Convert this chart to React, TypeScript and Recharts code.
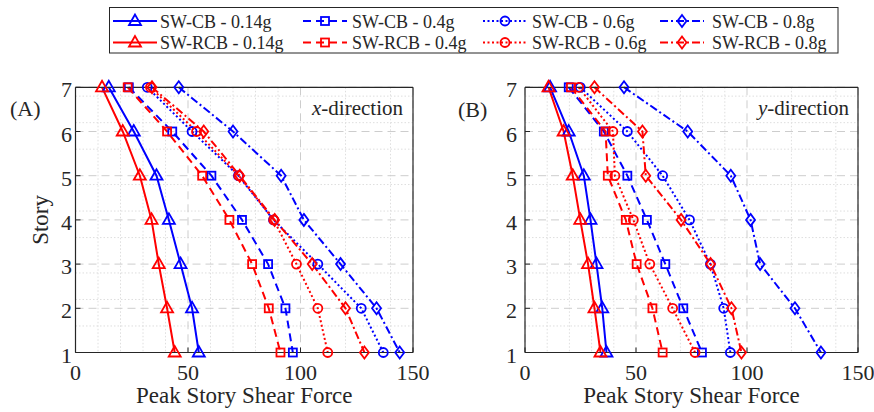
import React from "react";
import { CartesianGrid, Line, LineChart, XAxis, YAxis } from "recharts";

// story levels (top to bottom, the order the lines are drawn in)
const stories = [7, 6, 5, 4, 3, 2, 1];

// (A) x-direction
const aCB014 = [14.8, 25.9, 36, 41.5, 46.7, 51.8, 54.8];
const aRCB014 = [11.8, 21, 28.6, 33.8, 37, 40.7, 44.1];
const aCB04 = [23.7, 43, 60.4, 74, 85.6, 93.3, 96.6];
const aRCB04 = [23.2, 40.7, 56.3, 68.4, 78.5, 85.9, 91.1];
const aCB06 = [31.9, 51.8, 72.4, 88, 107.7, 127, 136.8];
const aRCB06 = [33.3, 53.8, 72.6, 88.1, 98.2, 107.7, 112.1];
const aCB08 = [45.9, 70, 91.4, 101.5, 117.8, 133.8, 144.1];
const aRCB08 = [34, 57, 73, 88.5, 105.2, 120, 128.4];

// (B) y-direction
const bCB014 = [11.3, 19.7, 26.5, 29.5, 32.2, 34.8, 36.7];
const bRCB014 = [10.6, 17.4, 21.5, 24.9, 28.4, 31.3, 34];
const bCB04 = [19.7, 35.5, 46.1, 54.9, 63.2, 71.3, 79.7];
const bRCB04 = [20.7, 36.3, 37.3, 45.4, 50.3, 57.4, 62];
const bCB06 = [24.9, 46.1, 62, 74.1, 83.5, 89.5, 92.5];
const bRCB06 = [24.2, 39.6, 40.5, 48.8, 56.2, 66.5, 76.6];
const bCB08 = [44.6, 73.3, 92.7, 101.6, 105.9, 121.6, 133.3];
const bRCB08 = [31.3, 52.9, 54.4, 70.3, 83.6, 93, 97.5];

const xTicks = [0, 50, 100, 150];
const yTicks = [1, 2, 3, 4, 5, 6, 7];

const FONT = "Liberation Serif, DejaVu Serif, Noto Serif, Times New Roman, serif";
const serif = { fontFamily: FONT };
const INK = "#262626";
const BLUE = "#0000ff";
const RED = "#ff0000";

type Marker = "triangle" | "square" | "circle" | "diamond";

const series: { key: string; name: string; color: string; dash?: string; marker: Marker }[] = [
  { key: "cb014", name: "SW-CB - 0.14g", color: BLUE, marker: "triangle" },
  { key: "cb04", name: "SW-CB - 0.4g", color: BLUE, dash: "8 5", marker: "square" },
  { key: "cb06", name: "SW-CB - 0.6g", color: BLUE, dash: "2 2.5", marker: "circle" },
  { key: "cb08", name: "SW-CB - 0.8g", color: BLUE, dash: "8 3 2 3", marker: "diamond" },
  { key: "rcb014", name: "SW-RCB - 0.14g", color: RED, marker: "triangle" },
  { key: "rcb04", name: "SW-RCB - 0.4g", color: RED, dash: "8 5", marker: "square" },
  { key: "rcb06", name: "SW-RCB - 0.6g", color: RED, dash: "2 2.5", marker: "circle" },
  { key: "rcb08", name: "SW-RCB - 0.8g", color: RED, dash: "8 3 2 3", marker: "diamond" },
];

const rowsA = stories.map((story, i) => ({
  story,
  cb014: aCB014[i],
  rcb014: aRCB014[i],
  cb04: aCB04[i],
  rcb04: aRCB04[i],
  cb06: aCB06[i],
  rcb06: aRCB06[i],
  cb08: aCB08[i],
  rcb08: aRCB08[i],
}));

const rowsB = stories.map((story, i) => ({
  story,
  cb014: bCB014[i],
  rcb014: bRCB014[i],
  cb04: bCB04[i],
  rcb04: bRCB04[i],
  cb06: bCB06[i],
  rcb06: bRCB06[i],
  cb08: bCB08[i],
  rcb08: bRCB08[i],
}));

// minor grid (matlab style): every 10 in x, every 0.2 story in y
const minorX = Array.from({ length: 14 }, (_, i) => (i + 1) * 10).filter((v) => v % 50 !== 0);
const minorY = Array.from({ length: 29 }, (_, i) => 1 + (i + 1) * 0.2).filter(
  (v) => Math.abs(v - Math.round(v)) > 0.01
);

function MarkerShape({ cx, cy, marker, color }: { cx: number; cy: number; marker: Marker; color: string }) {
  const common = { fill: "none", stroke: color, strokeWidth: 1.8, strokeDasharray: "none" };
  if (marker === "triangle")
    return <polygon points={`${cx},${cy - 6.5} ${cx - 6},${cy + 4} ${cx + 6},${cy + 4}`} {...common} />;
  if (marker === "square") return <rect x={cx - 4} y={cy - 4} width={8} height={8} {...common} />;
  if (marker === "circle") return <circle cx={cx} cy={cy} r={4.5} {...common} />;
  return <polygon points={`${cx},${cy - 6} ${cx + 4.5},${cy} ${cx},${cy + 6} ${cx - 4.5},${cy}`} {...common} />;
}

// tick text drawn by hand so the serif font sticks (inline style beats recharts' own css)
function XTick(p: any) {
  return (
    <text x={p.x} y={p.y} dy={16} textAnchor="middle" fontSize={22} fill={INK} style={serif}>
      {p.payload.value}
    </text>
  );
}

function YTick(p: any) {
  return (
    <text x={p.x} y={p.y} dy={10} textAnchor="end" fontSize={22} fill={INK} style={serif}>
      {p.payload.value}
    </text>
  );
}

function XTitle(p: any) {
  const vb = p.viewBox || {};
  return (
    <text x={vb.x + vb.width / 2} y={vb.y + vb.height - 4.5} textAnchor="middle" fontSize={23} fill={INK} style={serif}>
      Peak Story Shear Force
    </text>
  );
}

function YTitle(p: any) {
  const vb = p.viewBox || {};
  const cx = vb.x + 20;
  const cy = vb.y + vb.height / 2;
  return (
    <text
      transform={`translate(${cx},${cy}) rotate(-90)`}
      x={0}
      y={7.5}
      textAnchor="middle"
      fontSize={23}
      fill={INK}
      style={serif}
    >
      Story
    </text>
  );
}

function Panel({
  rows,
  width,
  yWidth,
  marginLeft,
  marginRight,
  yTickMargin,
  storyLabel,
}: {
  rows: typeof rowsA;
  width: number;
  yWidth: number;
  marginLeft: number;
  marginRight: number;
  yTickMargin: number;
  storyLabel: boolean;
}) {
  return (
    <LineChart
      width={width}
      height={412}
      data={rows}
      layout="vertical"
      margin={{ top: 86.3, right: marginRight, left: marginLeft, bottom: 4.5 }}
    >
      <CartesianGrid stroke="#dedede" strokeDasharray="1.5 2" verticalValues={minorX} horizontalValues={minorY} />
      <CartesianGrid stroke="#cdcdcd" strokeDasharray="8 5" />
      <XAxis
        type="number"
        domain={[0, 150]}
        ticks={xTicks}
        height={55}
        tickSize={-5}
        tickMargin={16}
        tick={<XTick />}
        tickLine={{ stroke: INK }}
        axisLine={{ stroke: INK, strokeWidth: 1.2 }}
        label={<XTitle />}
      />
      <XAxis
        xAxisId="top"
        orientation="top"
        type="number"
        domain={[0, 150]}
        ticks={xTicks}
        height={1}
        tickSize={-5}
        tick={false}
        tickLine={{ stroke: INK }}
        axisLine={{ stroke: INK, strokeWidth: 1.2 }}
      />
      <YAxis
        type="number"
        dataKey="story"
        domain={[1, 7]}
        ticks={yTicks}
        reversed
        width={yWidth}
        tickSize={-5}
        tickMargin={yTickMargin}
        tick={<YTick />}
        tickLine={{ stroke: INK }}
        axisLine={{ stroke: INK, strokeWidth: 1.2 }}
        label={storyLabel ? <YTitle /> : undefined}
      />
      <YAxis
        yAxisId="right"
        orientation="right"
        type="number"
        domain={[1, 7]}
        ticks={yTicks}
        reversed
        width={1}
        tickSize={-5}
        tick={false}
        tickLine={{ stroke: INK }}
        axisLine={{ stroke: INK, strokeWidth: 1.2 }}
      />
      {series.map((s) => (
        <Line
          key={s.key}
          dataKey={s.key}
          name={s.name}
          stroke={s.color}
          strokeWidth={2}
          strokeDasharray={s.dash}
          isAnimationActive={false}
          activeDot={false}
          dot={(p: any) => (
            <MarkerShape key={`${s.key}-${p.index}`} cx={p.cx} cy={p.cy} marker={s.marker} color={s.color} />
          )}
        />
      ))}
    </LineChart>
  );
}

const legendSampleX = [113, 303, 483, 660];
const legendTextX = [160, 352, 532, 712];
const legendRowY = [21, 42.5];

function Overlay() {
  return (
    <svg width={874} height={412} style={{ position: "absolute", left: 0, top: 0, pointerEvents: "none" }}>
      <rect x={109.5} y={7.5} width={728.5} height={45.5} fill="#fff" stroke={INK} strokeWidth={1} />
      {series.map((s, i) => {
        const col = i % 4;
        const row = Math.floor(i / 4);
        const x0 = legendSampleX[col];
        const y = legendRowY[row];
        return (
          <g key={s.key}>
            <line x1={x0} x2={x0 + 44} y1={y} y2={y} stroke={s.color} strokeWidth={2} strokeDasharray={s.dash} />
            <MarkerShape cx={x0 + 22} cy={y} marker={s.marker} color={s.color} />
            <text x={legendTextX[col]} y={y + 6.8} fontSize={18} fill={INK} style={serif}>
              {s.name}
            </text>
          </g>
        );
      })}
      <text x={10} y={116} fontSize={22} fill={INK} style={serif}>
        (A)
      </text>
      <text x={458} y={117} fontSize={22} fill={INK} style={serif}>
        (B)
      </text>
      <text x={312} y={115} fontSize={21} fill={INK} style={serif}>
        <tspan fontStyle="italic">x</tspan>-direction
      </text>
      <text x={758} y={115} fontSize={21} fill={INK} style={serif}>
        <tspan fontStyle="italic">y</tspan>-direction
      </text>
    </svg>
  );
}

export default function App() {
  return (
    <div style={{ position: "absolute", left: 0, top: 0, width: 874, height: 412, background: "#fff", ...serif }}>
      <div style={{ position: "absolute", left: 0, top: 0 }}>
        <Panel rows={rowsA} width={440} yWidth={55.5} marginLeft={20} marginRight={26} yTickMargin={8.5} storyLabel />
      </div>
      <div style={{ position: "absolute", left: 440, top: 0 }}>
        <Panel rows={rowsB} width={434} yWidth={55} marginLeft={30} marginRight={15} yTickMargin={13} storyLabel={false} />
      </div>
      <Overlay />
    </div>
  );
}
